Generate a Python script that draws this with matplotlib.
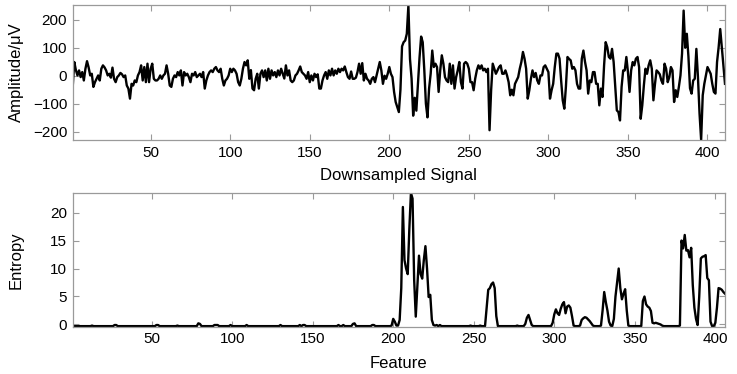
import numpy as np
import matplotlib
matplotlib.use('Agg')
import matplotlib.pyplot as plt

# Downsampled signal (samples 1..411), amplitude in microvolts
signal_seg1 = [
    -40, 49, 20, 1, 19, -5, 13, -17, 25, 52,
    30, 1, 7, -40, -23, -11, 1, -17, 25, 37,
    30, 19, 1, 7, -7, 29, -11, -23, -5, 1,
    10, 5, -5, 1, -35, -46, -82,
    -29, -35, -17, -23, 1, 13, 37, -17, 31, -23,
    43, -23, 25, 43, -11, -17, -17, -11, 1, -11,
    1, 7, 37, 7, -35, -40, -11, 1, -5, 13,
    1, 19, -35, 13, 1, 7, -5, -23, 7, 1,
    13, -5, 1, 7, -5, 13, -46, -17, 1, 13,
    19, 13, 25, 31, 19, 13, 25, -11, -35, -17,
    -11, 1, 25, 13, 25,
]
signal_seg2 = [
    19, 7, -23, -35, -11, 25, 49, 37, 55, -11, 20,
    -46, -52, -11, 7, -46, 7, 19, -5, 19, -17,
    25, -11, 19, 1, 13, -5, 19, 1, 25, 7, -10,
    37, 1, 19, -17, -23, -17, 1, 7, 19, 33,
    13, 7, 1, -11, 13, -23, 1, -17, 7, -5, 5,
    -46, -46, -17, 1, 13, -11, 19, 1, 25, 1,
    19, 7, 25, 13, 25, 19, 33, 13, -5, -11, 15,
    -11, -11, -7, 13, 43, 7, 45, -17, 7, -11,
    -17, -29, -11, -5, -23, 1, 25, 49, 19, -29, 0,
    -11, 7, 31, 7, -5, -58, -94, -112,
]
signal_seg3 = [
    -130, -50, 105, 120, 126, 150, 252, 60, -10, -143,
    -79, -125, -30, 65, 140, 120, 20, -100, -149,
    -46, 7, 90, 31, 43, 31, -58, 19, 73, 43,
    -5, -17, -23, 43, -29, 37, -46, -5, 19, 49,
    -23, -46, 43, 49, 43, 25, -23, -23, -52, -10,
    19, 37, 25, 37, 19, 25, 13, 25, -195,
    -52, 43, 25, 7, 19, 31, 37, 7, 7, 19,
    1, -23, -70, -50, -70, -29, -17, -5, 25, 49,
    85, 61, 25, -82, -52, -11, 19, -5, 10, -17,
    -29, 1, 1, 31, 37, 25, 13, -82, -52, -29,
    31, 79, 79, 61,
]
signal_seg4 = [
    -17, -88, -118, -40, 67, 60, 55, 25, 31, 19,
    -29, -46, -46, 61, 90, 50, 19, -64, -17, -23,
    13, 13, -29, -29, -106, -46, -76, 37, 120, 102,
    67, 61, 96, 49, -40, -124, -130, -160, -40, 19,
    19, 67, 13, -58, 19, 49, 37, 61, 67, 31,
    -154, -106, -35, 25, 7, 37, 55, 25, -88, -29,
    19, 13, 5, -17, -29, 43, 25, -23, -5, 31,
    19, -94, -52, -76, -40, 1, 79, 233, 100, 150,
    70, -45, -64, -17, -11, 96, -5, -136, -230, -70,
    -29, 1, 31, 19, 7, -29, -58, -64, 49, 102,
    167, 102, 40, -29,
]
signal = signal_seg1 + signal_seg2 + signal_seg3 + signal_seg4

# Entropy per feature (1..406)
entropy = [
    -0.3, -0.3, -0.3, -0.3, -0.3, -0.3, -0.3, -0.3, -0.3, -0.3,
    -0.3, -0.3, -0.2, -0.3, -0.3, -0.3, -0.3, -0.3, -0.3, -0.3,
    -0.3, -0.3, -0.3, -0.3, -0.3, -0.3, -0.1, -0.1, -0.3, -0.3,
    -0.3, -0.3, -0.3, -0.3, -0.3, -0.3, -0.3, -0.3, -0.3, -0.3,
    -0.3, -0.3, -0.3, -0.3, -0.3, -0.3, -0.3, -0.3, -0.3, -0.3,
    -0.3, -0.3, -0.1, -0.1, -0.3, -0.3, -0.3, -0.3, -0.3, -0.3,
    -0.3, -0.3, -0.3, -0.3, -0.3, -0.2, -0.3, -0.3, -0.3, -0.3,
    -0.3, -0.3, -0.3, -0.3, -0.3, -0.3, -0.3, -0.3, 0.2, 0.1,
    -0.3, -0.3, -0.3, -0.3, -0.3, -0.3, -0.3, -0.3, -0.1, -0.1,
    -0.1, -0.3, -0.3, -0.3, -0.3, -0.3, -0.3, -0.3, -0.1, -0.3,
    -0.3, -0.3, -0.3, -0.3, -0.3, -0.3, -0.3, -0.3, -0.1, -0.3,
    -0.3, -0.3, -0.3, -0.3, -0.3, -0.3, -0.3, -0.3, -0.3, -0.3,
    -0.3, -0.3, -0.3, -0.3, -0.3, -0.3, -0.3, -0.3, -0.3, -0.1,
    -0.3, -0.3, -0.3, -0.3, -0.3, -0.3, -0.3, -0.3, -0.3, -0.3,
    -0.3, -0.1, -0.3, -0.1, -0.1, -0.3, -0.3, -0.3, -0.3, -0.3,
    -0.3, -0.3, -0.3, -0.3, -0.3, -0.3, -0.3, -0.3, -0.3, -0.3,
    -0.3, -0.3, -0.3, -0.3, -0.3, -0.1, -0.3, -0.3, -0.1, -0.3,
    -0.3, -0.3, -0.3, -0.3, 0.1, 0.2, -0.3, -0.3, -0.3, -0.3,
    -0.3, -0.3, -0.3, -0.3, -0.3, -0.3, -0.1, -0.1, -0.3, -0.3,
    -0.3, -0.3, -0.3, -0.3, -0.3, -0.3, -0.3, -0.3, -0.2, 1.0,
    0.5, -0.2, -0.2, 0.8, 6.5, 21.0, 11.5, 10.0, 9.0, 17.0,
    23.5, 22.5, 8.0, 1.4, 7.0, 12.3, 9.0, 8.2, 11.5, 14.0,
    10.0, 4.9, 5.3, 0.8, -0.1, -0.2, -0.1, -0.3, -0.1, -0.3,
    -0.3, -0.3, -0.3, -0.3, -0.3, -0.3, -0.3, -0.3, -0.3, -0.3,
    -0.3, -0.3, -0.3, -0.3, -0.3, -0.3, -0.3, -0.2, -0.3, -0.3,
    -0.3, -0.3, -0.3, -0.2, -0.3, -0.3, -0.3, 3.0, 6.2, 6.5,
    7.2, 7.5, 6.5, 1.5, -0.3, -0.3, -0.3, -0.3, -0.3, -0.3,
    -0.3, -0.3, -0.3, -0.3, -0.3, -0.3, -0.2, -0.3, -0.3, -0.3,
    -0.3, 0.1, 1.2, 1.7, 0.8, -0.1, -0.3, -0.3, -0.3, -0.3,
    -0.3, -0.3, -0.3, -0.3, -0.3, -0.3, -0.3, -0.3, 0.3, 1.8,
    2.7, 2.0, 1.7, 2.8, 3.6, 4.0, 2.0, 3.2, 3.4, 3.0,
    1.5, -0.2, -0.3, -0.3, -0.3, -0.2, 0.8, 1.1, 1.3, 1.2,
    0.9, 0.6, 0.2, -0.2, -0.3, -0.3, -0.3, -0.3, -0.2, 2.5,
    5.8, 4.0, 2.5, 0.5, -0.2, -0.3, 1.0, 5.0, 7.5, 10.0,
    6.5, 4.5, 5.5, 6.3, 2.5, -0.2, -0.3, -0.3, -0.3, -0.3,
    -0.3, -0.3, -0.3, -0.3, 4.2, 5.0, 3.6, 3.2, 3.0, 2.4,
    0.3, 0.2, 0.3, 0.2, 0.1, 0.0, -0.2, -0.3, -0.3, -0.3,
    -0.3, -0.3, -0.3, -0.3, -0.3, -0.3, -0.3, -0.2, 15.0, 13.6,
    16.0, 13.2, 13.3, 12.0, 13.7, 7.0, 3.0, 1.0, -0.1, 5.0,
    11.8, 12.1, 12.2, 12.4, 8.3, 7.9, 0.5, -0.3, -0.3, 0.3,
    3.0, 6.5, 6.4, 6.2, 5.8, 5.5,
]

x_ticks = [50, 100, 150, 200, 250, 300, 350, 400]
amp_ticks = [-200, -100, 0, 100, 200]
ent_ticks = [0, 5, 10, 15, 20]

plt.rcParams['font.family'] = ['Liberation Sans', 'DejaVu Sans']
plt.rcParams['font.size'] = 11

W, H = 737, 374
fig = plt.figure(figsize=(W / 100, H / 100), dpi=100)
left, right = 72.7, 725.0
ax1 = fig.add_axes([left / W, 1 - 140 / H, (right - left) / W, (140 - 5) / H])
ax2 = fig.add_axes([left / W, 1 - 326.7 / H, (right - left) / W, (326.7 - 193) / H])

spine_col = '#9a9a9a'
for ax in (ax1, ax2):
    for s in ax.spines.values():
        s.set_color(spine_col)
        s.set_linewidth(0.9)
    ax.tick_params(direction='in', length=4, width=0.8, color=spine_col,
                   labelcolor='black', top=True, right=True, labelsize=11, pad=4)

label_size = 12

xs1 = np.arange(1, len(signal) + 1)
ax1.plot(xs1, signal, color='black', lw=1.7)
ax1.set_xlim(1, len(signal))
ax1.set_ylim(min(signal), max(signal) + 1)
ax1.set_xticks(x_ticks)
ax1.set_yticks(amp_ticks)
ax1.set_xlabel('Downsampled Signal', fontsize=label_size)
ax1.set_ylabel('Amplitude/μV', fontsize=label_size)
ax1.xaxis.set_label_coords(0.5, -(176 - 140) / 135)
ax1.yaxis.set_label_coords((16 - left) / (right - left), 0.5)
ax1.xaxis.label.set_va('center')
ax1.yaxis.label.set_va('center')

xs2 = np.arange(1, len(entropy) + 1)
ax2.plot(xs2, entropy, color='black', lw=1.7)
ax2.set_xlim(1, len(entropy))
ax2.set_ylim(min(entropy) - 0.1, max(entropy))
ax2.set_xticks(x_ticks)
ax2.set_yticks(ent_ticks)
ax2.set_xlabel('Feature', fontsize=label_size)
ax2.set_ylabel('Entropy', fontsize=label_size)
ax2.xaxis.set_label_coords(0.5, -(363 - 326.7) / 133.7)
ax2.yaxis.set_label_coords((16 - left) / (right - left), 0.5)
ax2.xaxis.label.set_va('center')
ax2.yaxis.label.set_va('center')

fig.savefig('out.png', dpi=100)
